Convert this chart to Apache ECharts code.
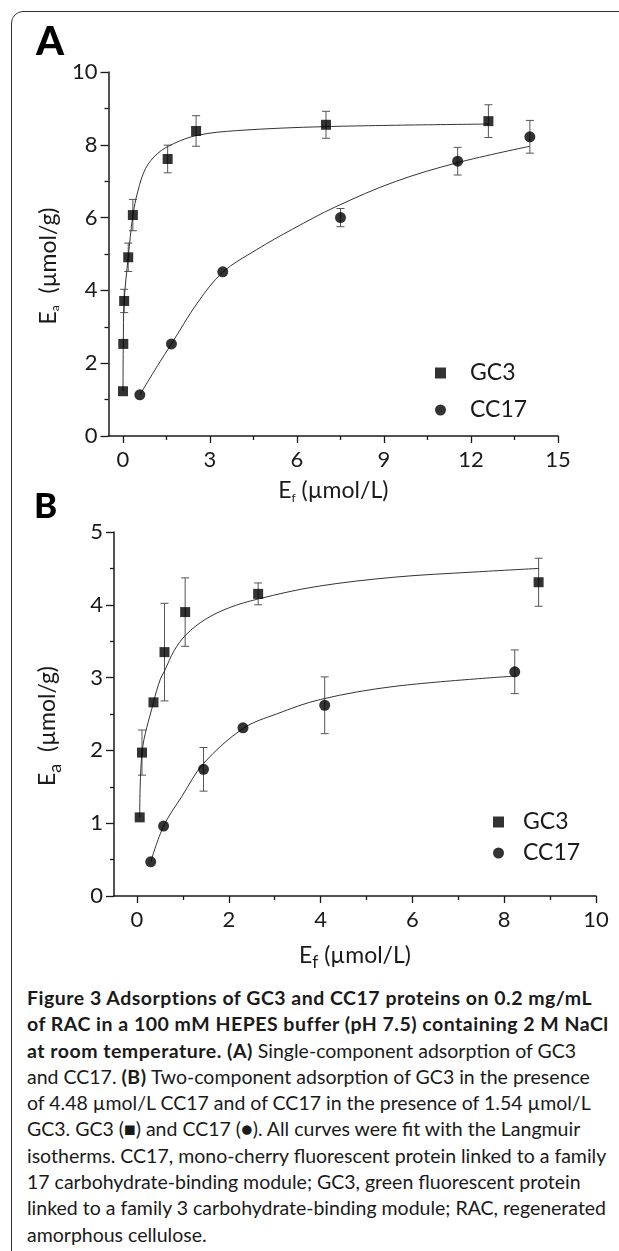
<!DOCTYPE html>
<html>
<head>
<meta charset="utf-8">
<script src="https://cdn.jsdelivr.net/npm/echarts@6/dist/echarts.min.js"></script>
<style>
html, body { margin: 0; padding: 0; background: #fff; }
#wrap { position: relative; width: 619px; height: 1251px; overflow: hidden; }
#frame { position: absolute; left: 11px; top: 11px; width: 700px; height: 1300px; border: 1.5px solid #333; border-radius: 12px; }
#main { position: absolute; left: 0; top: 0; width: 619px; height: 980px; }
#caption { position: absolute; left: 27px; top: 985px; font-family: Lato, sans-serif; font-size: 19.5px; letter-spacing: 0; line-height: 26.3px; color: #1a1a1a; white-space: nowrap; }
#caption b { letter-spacing: 0.5px; }
</style>
</head>
<body>
<div id="wrap">
  <div id="frame"></div>
  <div id="main"></div>
  <div id="caption">
    <div><b>Figure 3 Adsorptions of GC3 and CC17 proteins on 0.2 mg/mL</b></div>
    <div><b>of RAC in a 100 mM HEPES buffer (pH 7.5) containing 2 M NaCl</b></div>
    <div><b>at room temperature. (A)</b> Single-component adsorption of GC3</div>
    <div>and CC17. <b>(B)</b> Two-component adsorption of GC3 in the presence</div>
    <div>of 4.48 µmol/L CC17 and of CC17 in the presence of 1.54 µmol/L</div>
    <div>GC3. GC3 (■) and CC17 (●). All curves were fit with the Langmuir</div>
    <div>isotherms. CC17, mono-cherry fluorescent protein linked to a family</div>
    <div>17 carbohydrate-binding module; GC3, green fluorescent protein</div>
    <div>linked to a family 3 carbohydrate-binding module; RAC, regenerated</div>
    <div>amorphous cellulose.</div>
  </div>
</div>
<script>
// panel A: single-component adsorption
const aGc3X = [0.0, 0.01, 0.04, 0.18, 0.34, 1.54, 2.52, 7.0, 12.6];
const aGc3Y = [1.23, 2.53, 3.71, 4.91, 6.07, 7.61, 8.38, 8.55, 8.65];
const aGc3Err = [null, null, 0.32, 0.39, 0.43, 0.38, 0.42, 0.37, 0.45];
const aCc17X = [0.58, 1.67, 3.44, 7.5, 11.54, 14.03];
const aCc17Y = [1.13, 2.53, 4.51, 6.0, 7.55, 8.22];
const aCc17Err = [null, null, null, 0.25, 0.38, 0.45];
// langmuir fit curves
const aGc3FitX = [0.0, 0.01, 0.04, 0.18, 0.34, 0.51, 0.78, 1.19, 1.74, 2.56, 3.92, 7.0, 12.6];
const aGc3FitY = [1.23, 2.53, 3.71, 4.91, 6.05, 6.72, 7.35, 7.76, 8.03, 8.26, 8.39, 8.5, 8.57];
const aCc17FitX = [0.58, 1.19, 1.67, 2.56, 3.44, 4.61, 5.84, 7.34, 9.39, 11.54, 14.03];
const aCc17FitY = [1.13, 1.93, 2.53, 3.65, 4.5, 5.12, 5.68, 6.3, 6.99, 7.51, 7.96];

// panel B: two-component adsorption
const bGc3X = [0.06, 0.11, 0.36, 0.6, 1.05, 2.64, 8.75];
const bGc3Y = [1.08, 1.97, 2.66, 3.35, 3.9, 4.15, 4.31];
const bGc3Err = [null, 0.31, null, 0.67, 0.47, 0.15, 0.33];
const bCc17X = [0.3, 0.58, 1.45, 2.31, 4.09, 8.23];
const bCc17Y = [0.47, 0.96, 1.74, 2.31, 2.62, 3.08];
const bCc17Err = [null, null, 0.3, null, 0.39, 0.3];
const bGc3FitX = [0.06, 0.11, 0.36, 0.51, 0.6, 0.81, 1.07, 1.49, 2.01, 2.64, 3.9, 5.62, 7.34, 8.76];
const bGc3FitY = [1.08, 1.97, 2.66, 2.98, 3.09, 3.37, 3.59, 3.8, 3.96, 4.08, 4.25, 4.38, 4.45, 4.5];
const bCc17FitX = [0.3, 0.58, 0.98, 1.45, 2.31, 3.04, 4.0, 5.62, 8.2];
const bCc17FitY = [0.47, 0.96, 1.37, 1.82, 2.3, 2.5, 2.7, 2.88, 3.02];

// tick labels
const aXTicks = [0, 3, 6, 9, 12, 15];
const aXMinor = [1.5, 4.5, 7.5, 10.5, 13.5];
const bXTicks = [0, 2, 4, 6, 8, 10];
const bXMinor = [1, 3, 5, 7, 9];

const FONT = 'Lato';
const INK = '#1a1a1a';
const PLOT_H = 364;

function pts(xs, ys) {
  return xs.map((x, i) => [x, ys[i]]);
}
function errPts(xs, ys, es) {
  return xs.map((x, i) => [x, ys[i], es[i]]).filter(d => d[2] != null);
}

function renderErr(params, api) {
  const x = api.value(0), y = api.value(1), e = api.value(2);
  const top = api.coord([x, y + e]);
  const bot = api.coord([x, y - e]);
  const w = 4;
  const style = { stroke: '#555', lineWidth: 1 };
  return {
    type: 'group',
    children: [
      { type: 'line', shape: { x1: top[0], y1: top[1], x2: bot[0], y2: bot[1] }, style: style },
      { type: 'line', shape: { x1: top[0] - w, y1: top[1], x2: top[0] + w, y2: top[1] }, style: style },
      { type: 'line', shape: { x1: bot[0] - w, y1: bot[1], x2: bot[0] + w, y2: bot[1] }, style: style }
    ]
  };
}

const axisLine = { onZero: false, lineStyle: { color: INK, width: 1.5 } };
const labelStyle = { fontFamily: FONT, fontSize: 22, color: INK };

function xMain(grid, min, max, ticks, name, subSize, nameGap) {
  return {
    type: 'value', gridIndex: grid, min: min, max: max, position: 'bottom',
    axisLine: axisLine,
    axisTick: { show: true, length: 7, customValues: ticks, lineStyle: { color: INK, width: 1.3 } },
    axisLabel: { customValues: ticks, margin: 13, ...labelStyle },
    splitLine: { show: false },
    name: name, nameLocation: 'middle', nameGap: nameGap,
    nameTextStyle: {
      color: INK,
      rich: {
        m: { fontFamily: FONT, fontSize: 23, color: INK },
        s: { fontFamily: FONT, fontSize: subSize, color: INK, padding: [14, 0, 0, 0] }
      }
    }
  };
}
// minor ticks: a helper axis on top, shifted down onto the bottom line, ticks pointing down
function xMinor(grid, min, max, ticks) {
  return {
    type: 'value', gridIndex: grid, min: min, max: max, position: 'top', offset: -PLOT_H,
    axisLine: { show: false, onZero: false },
    axisTick: { show: true, inside: true, length: 4, customValues: ticks, lineStyle: { color: INK, width: 1.3 } },
    axisLabel: { show: false },
    splitLine: { show: false }
  };
}
function yMain(grid, max, interval, name, subSize, nameGap) {
  return {
    type: 'value', gridIndex: grid, min: 0, max: max, interval: interval,
    axisLine: axisLine,
    axisTick: { show: true, length: 8, lineStyle: { color: INK, width: 1.3 } },
    minorTick: { show: true, splitNumber: 2, length: 4, lineStyle: { color: INK, width: 1.3 } },
    axisLabel: { margin: 11, ...labelStyle },
    splitLine: { show: false },
    name: name, nameLocation: 'middle', nameGap: nameGap, nameRotate: 90,
    nameTextStyle: {
      color: INK,
      padding: [0, 24, 0, 0],
      rich: {
        m: { fontFamily: FONT, fontSize: 23, color: INK },
        s: { fontFamily: FONT, fontSize: subSize, color: INK, padding: [14, 0, 0, 0] }
      }
    }
  };
}

function scatter(name, x, y, data, symbol, size) {
  return {
    name: name, type: 'scatter', xAxisIndex: x, yAxisIndex: y,
    symbol: symbol, symbolSize: size, data: data,
    itemStyle: { color: '#000' }, z: 4
  };
}
function fit(name, x, y, data) {
  return {
    name: name, type: 'line', xAxisIndex: x, yAxisIndex: y,
    data: data, smooth: 0.35, showSymbol: false,
    lineStyle: { color: '#333', width: 1 }, z: 3
  };
}
function errs(name, x, y, data) {
  return {
    name: name, type: 'custom', xAxisIndex: x, yAxisIndex: y,
    renderItem: renderErr, encode: { x: 0, y: 1 }, data: data, z: 2
  };
}

const legendText = { fontFamily: FONT, fontSize: 23, color: INK, lineHeight: 26 };

const option = {
  animation: false,
  title: [
    { text: 'A', left: 36, top: 22, padding: 0, textStyle: { fontFamily: FONT, fontSize: 40, fontWeight: 900, color: '#000' } },
    { text: 'B', left: 34, top: 489, padding: 0, textStyle: { fontFamily: FONT, fontSize: 35, fontWeight: 900, color: '#000' } }
  ],
  legend: [
    {
      orient: 'vertical', left: 430, top: 355, itemWidth: 11, itemHeight: 11, itemGap: 11,
      data: [{ name: 'GC3', icon: 'rect' }, { name: 'CC17', icon: 'circle' }],
      textStyle: { ...legendText, padding: [0, 0, 0, 19] }, selectedMode: false
    },
    {
      orient: 'vertical', left: 488, top: 804, itemWidth: 11, itemHeight: 11, itemGap: 5,
      data: [{ name: 'GC3', icon: 'rect' }, { name: 'CC17', icon: 'circle' }],
      textStyle: { ...legendText, padding: [0, 0, 0, 14] }, selectedMode: false
    }
  ],
  grid: [
    { left: 108.5, top: 72, width: 449.5, height: PLOT_H },
    { left: 114, top: 532, width: 482, height: PLOT_H }
  ],
  xAxis: [
    xMain(0, -0.5, 15, aXTicks, '{m|E}{s|f}{m| (µmol/L)}', 12, 42),
    xMinor(0, -0.5, 15, aXMinor),
    xMain(1, -0.5, 10, bXTicks, '{m|E}{s|f}{m| (µmol/L)}', 17, 44),
    xMinor(1, -0.5, 10, bXMinor)
  ],
  yAxis: [
    yMain(0, 10, 2, '{m|E}{s|a}{m|  (µmol/g)}', 12, 44),
    yMain(1, 5, 1, '{m|E}{s|a}{m|  (µmol/g)}', 18, 50)
  ],
  series: [
    errs('GC3 err A', 0, 0, errPts(aGc3X, aGc3Y, aGc3Err)),
    errs('CC17 err A', 0, 0, errPts(aCc17X, aCc17Y, aCc17Err)),
    fit('GC3 fit A', 0, 0, pts(aGc3FitX, aGc3FitY)),
    fit('CC17 fit A', 0, 0, pts(aCc17FitX, aCc17FitY)),
    scatter('GC3', 0, 0, pts(aGc3X, aGc3Y), 'rect', 10),
    scatter('CC17', 0, 0, pts(aCc17X, aCc17Y), 'circle', 11),

    errs('GC3 err B', 2, 1, errPts(bGc3X, bGc3Y, bGc3Err)),
    errs('CC17 err B', 2, 1, errPts(bCc17X, bCc17Y, bCc17Err)),
    fit('GC3 fit B', 2, 1, pts(bGc3FitX, bGc3FitY)),
    fit('CC17 fit B', 2, 1, pts(bCc17FitX, bCc17FitY)),
    scatter('GC3', 2, 1, pts(bGc3X, bGc3Y), 'rect', 10),
    scatter('CC17', 2, 1, pts(bCc17X, bCc17Y), 'circle', 11)
  ]
};

const myChart = echarts.init(document.getElementById('main'), null, { renderer: 'canvas' });
myChart.setOption(option);
</script>
</body>
</html>
